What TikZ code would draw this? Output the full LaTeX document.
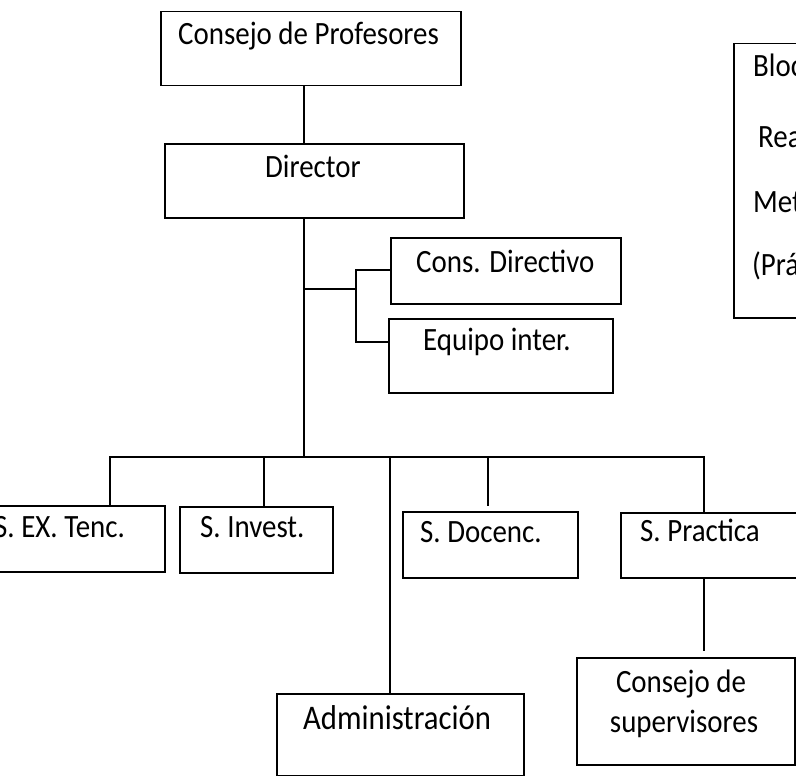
\documentclass[tikz,border=0pt]{standalone}
\usepackage{fontspec}
\setmainfont[FakeStretch=0.89]{Carlito}
\begin{document}
\begin{tikzpicture}[x=1pt,y=-1pt,
  box/.style={draw, line width=1.5pt, inner sep=0pt, anchor=north west},
  lbl/.style={inner sep=0pt, font=\fontsize{32.5}{38}\selectfont},
  biglbl/.style={inner sep=0pt, font=\fontsize{34.5}{40}\selectfont},
  wire/.style={line width=1.5pt}]
\useasboundingbox (0,0) rectangle (796,776);

% boxes (top-left corner, size)
\node[box, minimum width=300pt, minimum height=74pt] (cp)  at (160,11)  {};
\node[box, minimum width=299pt, minimum height=74pt] (dir) at (164,143) {};
\node[box, minimum width=230pt, minimum height=66pt] (cd)  at (390,237) {};
\node[box, minimum width=224pt, minimum height=74pt] (eq)  at (388,318) {};
\node[box, minimum width=196pt, minimum height=66pt] (sx)  at (-32,505) {};
\node[box, minimum width=153pt, minimum height=66pt] (si)  at (179,506) {};
\node[box, minimum width=175pt, minimum height=66pt] (sd)  at (402,511) {};
\node[box, minimum width=200pt, minimum height=65pt] (sp)  at (620,512) {};
\node[box, minimum width=247pt, minimum height=82pt] (ad)  at (276,693) {};
\node[box, minimum width=218pt, minimum height=107pt] (cs) at (576,657) {};
\node[box, minimum width=100pt, minimum height=274pt] (blq) at (733,43) {};

% labels
\node[lbl, anchor=base west] (cpt)  at (178,45)  {Consejo de Profesores};
\node[lbl, anchor=base west] (dirt) at (265,177) {Director};
\node[lbl, anchor=base west] (cdt)  at (416,272) {Cons. Directivo};
\node[lbl, anchor=base west] (eqt)  at (423,350) {Equipo inter.};
\node[lbl, anchor=base west] (sxt)  at (-6,537) {S. EX. Tenc.};
\node[lbl, anchor=base west] (sit)  at (200,537) {S. Invest.};
\node[lbl, anchor=base west] (sdt)  at (420,542) {S. Docenc.};
\node[lbl, anchor=base west] (spt)  at (640,541) {S. Practica};
\node[biglbl, anchor=base west] (adt) at (303,729) {Administración};
\node[lbl, anchor=base] (cst1) at (681,692) {Consejo de};
\node[lbl, anchor=base] (cst2) at (684,732) {supervisores};
\node[lbl, anchor=base west] (blt1) at (753,77)  {Bloc};
\node[lbl, anchor=base west] (blt2) at (758,147) {Rea};
\node[lbl, anchor=base west] (blt3) at (753,212) {Met};
\node[lbl, anchor=base west] (blt4) at (752,275) {(Prá};

% trunk
\coordinate (t) at (304,0);
\draw[wire] (cp.south -| t) -- (dir.north -| t);
\coordinate (fork) at (304,289);
\coordinate (ja) at (356,270);
\coordinate (jb) at (356,342);
\coordinate (b1) at (110,457);
\coordinate (b2) at (264,457);
\coordinate (b3) at (390,457);
\coordinate (b4) at (488,457);
\coordinate (b5) at (704,457);
\draw[wire] (dir.south -| t) -- (b1 -| t);

% side branch
\draw[wire] (fork) -- (fork -| ja);
\draw[wire] (ja -| cd.west) -- (ja) -- (jb) -- (jb -| eq.west);

% bus and drops
\draw[wire] (b1 |- sx.north) -- (b1) -- (b5) -- (b5 |- sp.north);
\draw[wire] (b2) -- (b2 |- si.north);
\draw[wire] (b3) -- (b3 |- ad.north);
\draw[wire, shorten >=5pt] (b4) -- (b4 |- sd.north);
\draw[wire, shorten >=6pt] (sp.south -| b5) -- (cs.north -| b5);
\end{tikzpicture}
\end{document}
